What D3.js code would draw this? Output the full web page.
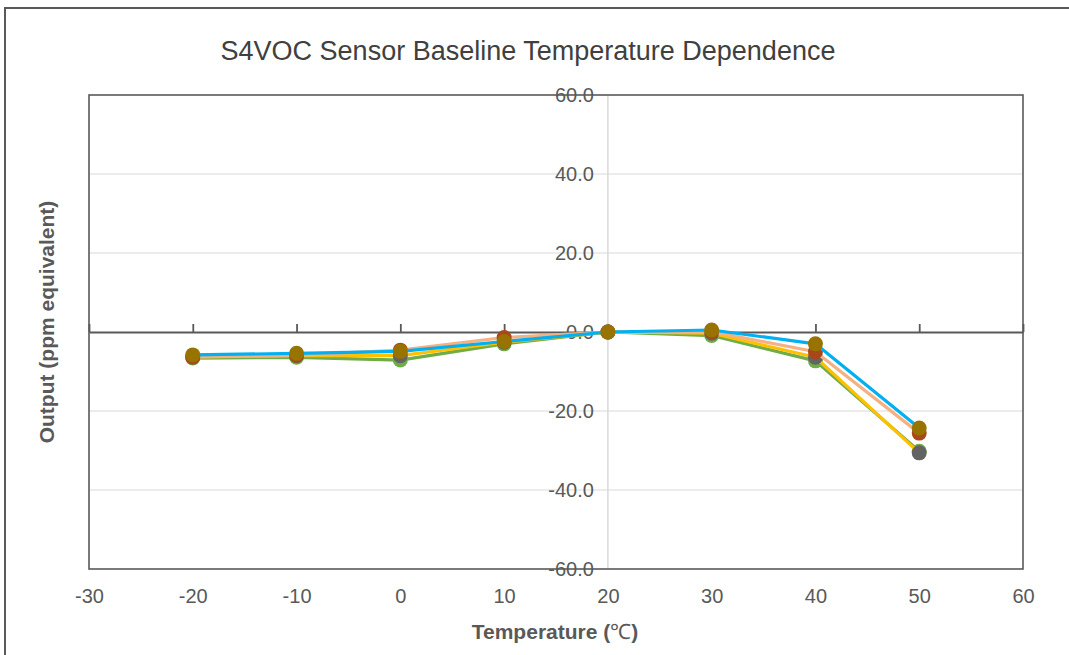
<!DOCTYPE html>
<html>
<head>
<meta charset="utf-8">
<script src="https://cdn.jsdelivr.net/npm/d3@7"></script>
<style>
  body { margin: 0; background: #fff; }
  svg { display: block; font-family: "Liberation Sans", Arial, sans-serif; }
</style>
</head>
<body>
<svg width="1069" height="655"></svg>
<script>
  // Temperatures (x) and sensor outputs
  const temps = [-20, -10, 0, 10, 20, 30, 40, 50];
  const blueVals  = [-5.8, -5.4, -4.9, -2.4, 0, 0.5, -3.0, -24.3];
  const peachVals = [-6.3, -5.9, -4.6, -1.4, 0, 0.1, -5.0, -25.6];
  const goldVals  = [-6.3, -6.0, -6.0, -2.6, 0, -0.3, -6.4, -30.6];
  const greenVals = [-6.6, -6.4, -7.1, -3.0, 0, -0.9, -7.3, -30.2];
  const xTicks = [-30, -20, -10, 0, 10, 20, 30, 40, 50, 60];
  const yTicks = [-60, -40, -20, 0, 20, 40, 60];

  // drawn in this order, last one on top (as in the original)
  const series = [
    { vals: greenVals, line: '#70AD47', mark: '#70AD47' },
    { vals: goldVals,  line: '#FFC000', mark: '#636363' },
    { vals: peachVals, line: '#F4B183', mark: '#A9471A' },
    { vals: blueVals,  line: '#00B0F0', mark: '#997300' }
  ];

  const svg = d3.select('svg');
  const plot = { left: 89, top: 95, right: 1023, bottom: 569 };

  const x = d3.scaleLinear().domain([-30, 60]).range([plot.left, plot.right]);
  const y = d3.scaleLinear().domain([-60, 60]).range([plot.bottom, plot.top]);

  // plain hyphen for negatives, like the original
  const fmtX = d => String(d);
  const fmtY = d => d3.format('.1f')(d).replace('\u2212', '-');

  // outer chart border (only left / top visible in the crop)
  svg.append('rect')
     .attr('x', 5).attr('y', 8).attr('width', 1200).attr('height', 800)
     .attr('fill', 'none').attr('stroke', '#595959').attr('stroke-width', 2);

  // title
  svg.append('text')
     .attr('x', 528).attr('y', 60)
     .attr('text-anchor', 'middle')
     .attr('font-size', 27).attr('fill', '#404040')
     .text('S4VOC Sensor Baseline Temperature Dependence');

  // gridlines
  svg.append('g').selectAll('line')
     .data(yTicks.filter(d => d !== 0 && Math.abs(d) !== 60))
     .join('line')
     .attr('x1', plot.left).attr('x2', plot.right)
     .attr('y1', d => y(d)).attr('y2', d => y(d))
     .attr('stroke', '#d9d9d9').attr('stroke-width', 1.2);

  // vertical axis line at x = 20
  svg.append('line')
     .attr('x1', x(20)).attr('x2', x(20))
     .attr('y1', plot.top).attr('y2', plot.bottom)
     .attr('stroke', '#d9d9d9').attr('stroke-width', 1.5);

  // plot area border
  svg.append('rect')
     .attr('x', plot.left).attr('y', plot.top)
     .attr('width', plot.right - plot.left).attr('height', plot.bottom - plot.top)
     .attr('fill', 'none').attr('stroke', '#595959').attr('stroke-width', 1.6);

  // horizontal axis at y = 0 with upward ticks
  const zeroAxis = svg.append('g')
     .attr('transform', `translate(0,${y(0)})`)
     .call(d3.axisTop(x).tickValues(xTicks).tickSizeInner(8).tickSizeOuter(0).tickFormat(''));
  zeroAxis.select('.domain').attr('stroke', '#595959').attr('stroke-width', 1.8);
  zeroAxis.selectAll('.tick line').attr('stroke', '#595959').attr('stroke-width', 1.8);

  // x tick labels under the plot
  const xAxis = svg.append('g')
     .attr('transform', `translate(0,${plot.bottom})`)
     .call(d3.axisBottom(x).tickValues(xTicks).tickSize(0).tickPadding(20).tickFormat(fmtX));
  xAxis.select('.domain').remove();
  xAxis.selectAll('text')
       .attr('font-family', '"Liberation Sans", Arial, sans-serif')
       .attr('font-size', 20).attr('fill', '#595959');

  // y tick labels next to the vertical axis
  const yAxis = svg.append('g')
     .attr('transform', `translate(${x(20)},0)`)
     .call(d3.axisLeft(y).tickValues(yTicks).tickSize(0).tickPadding(14).tickFormat(fmtY));
  yAxis.select('.domain').remove();
  yAxis.selectAll('text')
       .attr('font-family', '"Liberation Sans", Arial, sans-serif')
       .attr('font-size', 20).attr('fill', '#595959');

  // axis titles
  const xt = svg.append('text')
     .attr('x', 555).attr('y', 639)
     .attr('text-anchor', 'middle')
     .attr('font-size', 21).attr('font-weight', 'bold').attr('fill', '#595959');
  xt.append('tspan').text('Temperature (');
  xt.append('tspan').attr('font-family', '"Liberation Serif", serif').attr('font-weight', 'normal').text('℃');
  xt.append('tspan').text(')');

  svg.append('text')
     .attr('transform', 'translate(54,322) rotate(-90)')
     .attr('text-anchor', 'middle')
     .attr('font-size', 21).attr('font-weight', 'bold').attr('fill', '#595959')
     .text('Output (ppm equivalent)');

  // series: line then markers
  const line = d3.line().x((d, i) => x(temps[i])).y(d => y(d));
  const seriesG = svg.append('g').selectAll('g').data(series).join('g');
  seriesG.append('path')
     .attr('d', d => line(d.vals))
     .attr('fill', 'none')
     .attr('stroke', d => d.line)
     .attr('stroke-width', 3.2)
     .attr('stroke-linejoin', 'round');
  seriesG.each(function (s) {
    d3.select(this).selectAll('circle')
      .data(s.vals)
      .join('circle')
      .attr('cx', (d, i) => x(temps[i]))
      .attr('cy', d => y(d))
      .attr('r', 7.5)
      .attr('fill', s.mark);
  });
</script>
</body>
</html>
